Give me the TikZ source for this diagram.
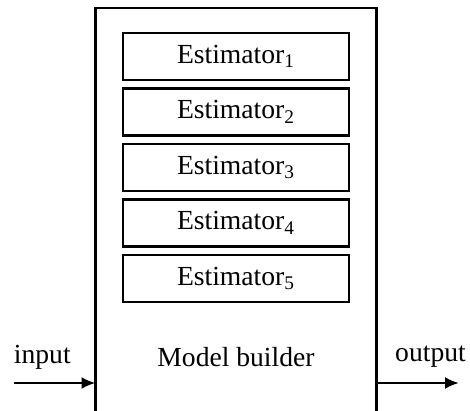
\documentclass[tikz,border=0pt]{standalone}
\usepackage{fontspec}
\setmainfont{Liberation Serif}
\usetikzlibrary{arrows.meta}

\tikzset{
  estbox/.style={draw, line width=1.4pt, minimum width=113pt, minimum height=23.5pt, inner sep=0pt},
  sigline/.style={line width=1.2pt, -{Latex[length=7pt,width=6pt]}}
}

\begin{document}
\begin{tikzpicture}[x=0.5pt,y=-0.5pt, font=\fontsize{13.8}{16}\selectfont]
\useasboundingbox (0,0) rectangle (470,411);
%\draw [help lines, step=50] (0,0) grid (470,411);
% model builder frame, open at the bottom
\draw [line width=1.2pt] (95.5,411) -- (95.5,8) -- (376.5,8) -- (376.5,411);
\foreach \i in {1,...,5}
  \node [estbox] (est\i) at (236,{56.5+55.5*(\i-1)}) {Estimator\textsubscript{\i}};
\node [anchor=base] (builder) at (236,366) {Model builder};
% signals in and out
\coordinate (inS) at (14,383);
\coordinate (inE) at (95.5,383);
\coordinate (outS) at (376.5,383);
\coordinate (outE) at (459,383);
\draw [sigline] (inS) -- (inE);
\draw [sigline] (outS) -- (outE);
\node [anchor=base] (input) at (42.3,363) {input};
\node [anchor=base] (output) at (430.5,361) {output};
\end{tikzpicture}
\end{document}
